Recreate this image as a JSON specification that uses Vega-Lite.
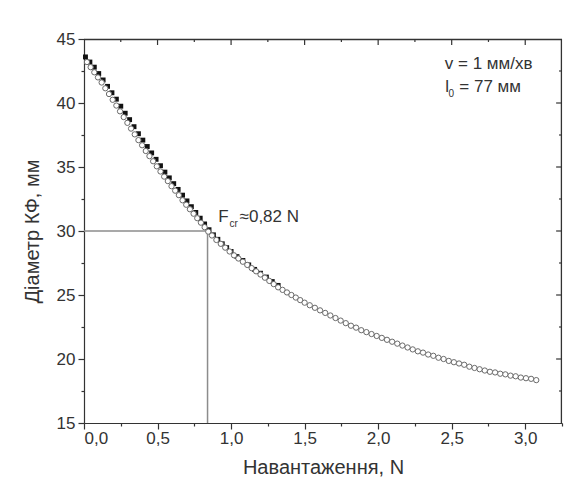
{
  "$schema": "https://vega.github.io/schema/vega-lite/v6.json",
  "width": 478,
  "height": 384,
  "autosize": {"type": "none"},
  "padding": {"left": 84, "top": 39, "right": 4, "bottom": 69},
  "background": "white",
  "config": {
    "font": "Liberation Sans",
    "view": {"stroke": null},
    "axis": {"grid": false, "domainColor": "#333", "tickColor": "#333", "labelColor": "#333", "titleColor": "#333", "domainWidth": 1.2, "tickWidth": 1.2}
  },
  "datasets": {
    "circles": [
      {"F":0.02,"D":43.2},{"F":0.045,"D":42.8},{"F":0.07,"D":42.4},{"F":0.095,"D":42.0},{"F":0.12,"D":41.6},
      {"F":0.145,"D":41.15},{"F":0.17,"D":40.7},{"F":0.195,"D":40.25},{"F":0.22,"D":39.8},{"F":0.245,"D":39.35},
      {"F":0.27,"D":38.9},{"F":0.295,"D":38.45},{"F":0.32,"D":38.0},{"F":0.345,"D":37.55},{"F":0.37,"D":37.1},
      {"F":0.395,"D":36.7},{"F":0.42,"D":36.25},{"F":0.445,"D":35.85},{"F":0.47,"D":35.45},{"F":0.495,"D":35.05},
      {"F":0.52,"D":34.65},{"F":0.545,"D":34.25},{"F":0.57,"D":33.9},{"F":0.595,"D":33.5},{"F":0.62,"D":33.15},
      {"F":0.645,"D":32.8},{"F":0.67,"D":32.4},{"F":0.695,"D":32.05},{"F":0.72,"D":31.7},{"F":0.745,"D":31.35},
      {"F":0.77,"D":31.0},{"F":0.795,"D":30.65},{"F":0.82,"D":30.3},{"F":0.845,"D":29.95},{"F":0.87,"D":29.65},
      {"F":0.9,"D":29.3},{"F":0.93,"D":29.0},{"F":0.96,"D":28.7},{"F":0.99,"D":28.4},{"F":1.02,"D":28.1},
      {"F":1.05,"D":27.85},{"F":1.08,"D":27.6},{"F":1.11,"D":27.35},{"F":1.14,"D":27.1},{"F":1.17,"D":26.85},
      {"F":1.2,"D":26.6},{"F":1.23,"D":26.35},{"F":1.26,"D":26.1},{"F":1.29,"D":25.85},{"F":1.32,"D":25.6},
      {"F":1.35,"D":25.4},{"F":1.38,"D":25.2},{"F":1.41,"D":25.0},{"F":1.44,"D":24.8},{"F":1.47,"D":24.6},
      {"F":1.5,"D":24.4},{"F":1.535,"D":24.2},{"F":1.57,"D":24.0},{"F":1.605,"D":23.8},{"F":1.64,"D":23.6},
      {"F":1.675,"D":23.4},{"F":1.71,"D":23.2},{"F":1.745,"D":23.0},{"F":1.78,"D":22.8},{"F":1.815,"D":22.6},
      {"F":1.85,"D":22.45},{"F":1.885,"D":22.25},{"F":1.92,"D":22.1},{"F":1.955,"D":21.95},{"F":1.99,"D":21.8},
      {"F":2.025,"D":21.65},{"F":2.06,"D":21.5},{"F":2.095,"D":21.35},{"F":2.13,"D":21.2},{"F":2.165,"D":21.05},
      {"F":2.2,"D":20.9},{"F":2.235,"D":20.75},{"F":2.27,"D":20.6},{"F":2.305,"D":20.5},{"F":2.34,"D":20.35},
      {"F":2.375,"D":20.25},{"F":2.41,"D":20.1},{"F":2.445,"D":20.0},{"F":2.48,"D":19.85},{"F":2.515,"D":19.75},
      {"F":2.55,"D":19.65},{"F":2.585,"D":19.55},{"F":2.62,"D":19.4},{"F":2.655,"D":19.3},{"F":2.69,"D":19.2},
      {"F":2.725,"D":19.1},{"F":2.76,"D":19.0},{"F":2.795,"D":18.95},{"F":2.83,"D":18.85},{"F":2.865,"D":18.8},
      {"F":2.9,"D":18.7},{"F":2.935,"D":18.65},{"F":2.97,"D":18.55},{"F":3.005,"D":18.5},{"F":3.04,"D":18.45},
      {"F":3.075,"D":18.35}
    ],
    "squares": [
      {"F":0.01,"D":43.6},{"F":0.04,"D":43.2},{"F":0.07,"D":42.8},{"F":0.1,"D":42.3},{"F":0.13,"D":41.8},
      {"F":0.16,"D":41.3},{"F":0.19,"D":40.8},{"F":0.22,"D":40.3},{"F":0.25,"D":39.75},{"F":0.28,"D":39.2},
      {"F":0.31,"D":38.7},{"F":0.34,"D":38.15},{"F":0.37,"D":37.6},{"F":0.4,"D":37.1},{"F":0.43,"D":36.6},
      {"F":0.46,"D":36.1},{"F":0.49,"D":35.6},{"F":0.52,"D":35.1},{"F":0.55,"D":34.6},{"F":0.58,"D":34.15},
      {"F":0.61,"D":33.7},{"F":0.64,"D":33.25},{"F":0.67,"D":32.8},{"F":0.7,"D":32.35},{"F":0.73,"D":31.9},
      {"F":0.76,"D":31.45},{"F":0.79,"D":31.0},{"F":0.82,"D":30.55},{"F":0.85,"D":30.1},{"F":0.88,"D":29.7},
      {"F":0.91,"D":29.35},{"F":0.94,"D":29.0},{"F":0.97,"D":28.7},{"F":1.0,"D":28.4},{"F":1.04,"D":28.0},
      {"F":1.08,"D":27.7},{"F":1.12,"D":27.35},{"F":1.16,"D":27.0},{"F":1.2,"D":26.7},{"F":1.24,"D":26.4},
      {"F":1.28,"D":26.05},{"F":1.32,"D":25.75}
    ],
    "guides": [
      {"x":0,"x2":0.84,"y":30,"y2":30},
      {"x":0.84,"x2":0.84,"y":15,"y2":30}
    ],
    "xmajor": [{"v":0.5},{"v":1},{"v":1.5},{"v":2},{"v":2.5},{"v":3}],
    "xminor": [{"v":0.25},{"v":0.75},{"v":1.25},{"v":1.75},{"v":2.25},{"v":2.75}],
    "ymajor": [{"v":20},{"v":25},{"v":30},{"v":35},{"v":40}],
    "yminor": [{"v":17.5},{"v":22.5},{"v":27.5},{"v":32.5},{"v":37.5},{"v":42.5}]
  },
  "encoding": {
    "x": {"type": "quantitative", "scale": {"domain": [0, 3.25], "nice": false, "zero": false},
      "axis": {"orient": "bottom", "values": [0,0.25,0.5,0.75,1,1.25,1.5,1.75,2,2.25,2.5,2.75,3,3.25],
        "labelExpr": "round(datum.value*4) % 2 == 0 && datum.value < 3.2 ? replace(format(datum.value, '.1f'), '.', ',') : ''",
        "tickSize": {"condition": {"test": "round(datum.value*4) % 2 == 0", "value": 6}, "value": 3},
        "labelFontSize": 17, "labelPadding": 1, "title": "Навантаження, N", "titleFontSize": 20, "titleFontWeight": "normal", "titlePadding": 11}},
    "y": {"type": "quantitative", "scale": {"domain": [15, 45], "nice": false, "zero": false},
      "axis": {"orient": "left", "values": [15,17.5,20,22.5,25,27.5,30,32.5,35,37.5,40,42.5,45],
        "labelExpr": "datum.value % 5 == 0 ? datum.value : ''",
        "tickSize": {"condition": {"test": "datum.value % 5 == 0", "value": 6}, "value": 3},
        "labelFontSize": 17, "labelPadding": 3, "title": "Діаметр КФ, мм", "titleFontSize": 20, "titleFontWeight": "normal", "titlePadding": 14}}
  },
  "layer": [
    {
      "data": {"values": [{}]},
      "mark": {"type": "rule", "color": "#333", "strokeWidth": 1.3},
      "encoding": {"y": {"datum": 44.96}}
    },
    {
      "data": {"values": [{}]},
      "mark": {"type": "rule", "color": "#333", "strokeWidth": 1.3},
      "encoding": {"x": {"datum": 3.246}}
    },
    {
      "data": {"name": "xmajor"},
      "mark": {"type": "rule", "color": "#333", "strokeWidth": 1.2},
      "encoding": {"x": {"field": "v"}, "y": {"datum": 45}, "y2": {"datum": 44.53}}
    },
    {
      "data": {"name": "xminor"},
      "mark": {"type": "rule", "color": "#333", "strokeWidth": 1.2},
      "encoding": {"x": {"field": "v"}, "y": {"datum": 45}, "y2": {"datum": 44.77}}
    },
    {
      "data": {"name": "ymajor"},
      "mark": {"type": "rule", "color": "#333", "strokeWidth": 1.2},
      "encoding": {"y": {"field": "v"}, "x": {"datum": 3.25}, "x2": {"datum": 3.21}}
    },
    {
      "data": {"name": "yminor"},
      "mark": {"type": "rule", "color": "#333", "strokeWidth": 1.2},
      "encoding": {"y": {"field": "v"}, "x": {"datum": 3.25}, "x2": {"datum": 3.23}}
    },
    {
      "data": {"name": "guides"},
      "mark": {"type": "rule", "color": "#8c8c8c", "strokeWidth": 1.5},
      "encoding": {
        "x": {"field": "x"},
        "x2": {"field": "x2"},
        "y": {"field": "y"},
        "y2": {"field": "y2"}
      }
    },
    {
      "data": {"name": "squares"},
      "mark": {"type": "point", "shape": "square", "filled": true, "color": "#111", "size": 24, "opacity": 1},
      "encoding": {"x": {"field": "F"}, "y": {"field": "D"}}
    },
    {
      "data": {"name": "circles"},
      "mark": {"type": "point", "shape": "circle", "filled": false, "fill": "white", "fillOpacity": 1, "stroke": "#6a6a6a", "strokeWidth": 1, "size": 28, "opacity": 1},
      "encoding": {"x": {"field": "F"}, "y": {"field": "D"}}
    },
    {
      "data": {"values": [{}]},
      "mark": {"type": "text", "text": "v = 1 мм/хв", "align": "left", "baseline": "alphabetic", "fontSize": 17, "color": "#333"},
      "encoding": {"x": {"datum": 2.453}, "y": {"datum": 42.66}}
    },
    {
      "data": {"values": [{}]},
      "mark": {"type": "text", "text": "l", "align": "left", "baseline": "alphabetic", "fontSize": 17, "color": "#333"},
      "encoding": {"x": {"datum": 2.457}, "y": {"datum": 40.86}}
    },
    {
      "data": {"values": [{}]},
      "mark": {"type": "text", "text": "0", "align": "left", "baseline": "alphabetic", "fontSize": 10, "color": "#333"},
      "encoding": {"x": {"datum": 2.478}, "y": {"datum": 40.45}}
    },
    {
      "data": {"values": [{}]},
      "mark": {"type": "text", "text": "= 77 мм", "align": "left", "baseline": "alphabetic", "fontSize": 17, "color": "#333"},
      "encoding": {"x": {"datum": 2.552}, "y": {"datum": 40.86}}
    },
    {
      "data": {"values": [{}]},
      "mark": {"type": "text", "text": "F", "align": "left", "baseline": "alphabetic", "fontSize": 17, "color": "#333"},
      "encoding": {"x": {"datum": 0.912}, "y": {"datum": 30.73}}
    },
    {
      "data": {"values": [{}]},
      "mark": {"type": "text", "text": "cr", "align": "left", "baseline": "alphabetic", "fontSize": 10, "color": "#333"},
      "encoding": {"x": {"datum": 0.99}, "y": {"datum": 30.35}}
    },
    {
      "data": {"values": [{}]},
      "mark": {"type": "text", "text": "≈0,82 N", "align": "left", "baseline": "alphabetic", "fontSize": 17, "color": "#333"},
      "encoding": {"x": {"datum": 1.058}, "y": {"datum": 30.73}}
    }
  ]
}
